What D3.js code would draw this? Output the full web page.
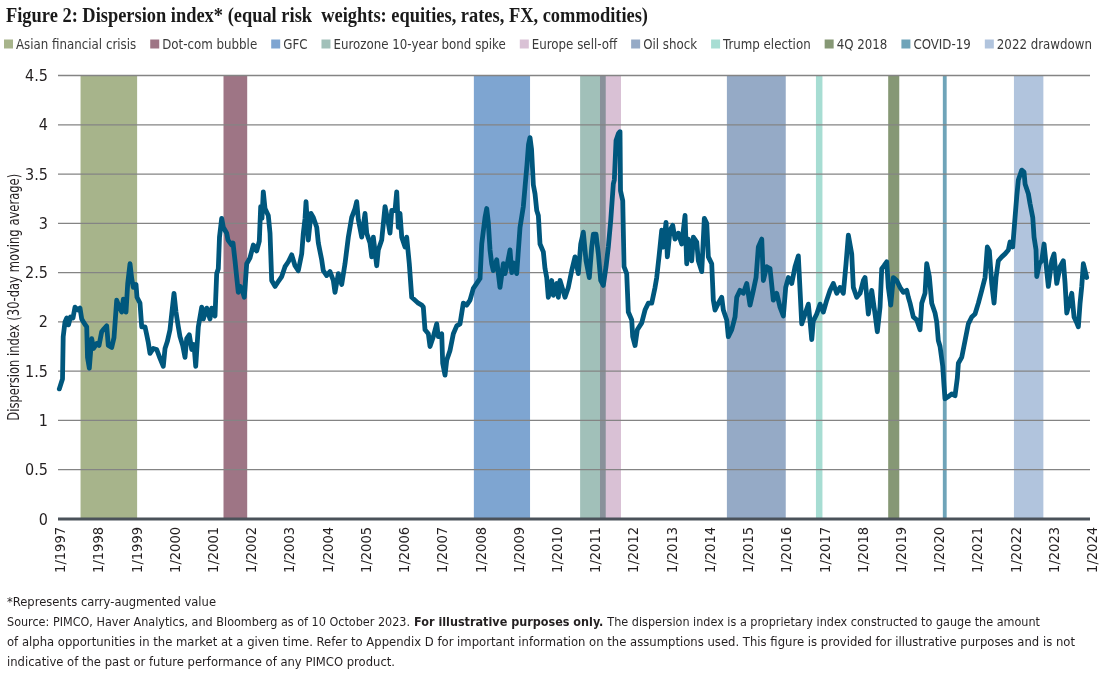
<!DOCTYPE html>
<html>
<head>
<meta charset="utf-8">
<script src="https://cdn.jsdelivr.net/npm/d3@7"></script>
<style>
  body { margin: 0; background: #fff; }
  text { font-family: "Liberation Sans Narrow", "DejaVu Sans Condensed", "Roboto Condensed", "Liberation Sans", sans-serif; fill: #231f20; }
</style>
</head>
<body>
<script>
// dispersion index, 30-day moving average (decimal year, value)
var years = [
  1997.034, 1997.092, 1997.118, 1997.136, 1997.183, 1997.228, 1997.275, 1997.327, 1997.392, 1997.445,
  1997.523, 1997.576, 1997.620, 1997.680, 1997.751, 1997.772, 1997.819, 1997.850, 1997.882, 1997.929,
  1998.013, 1998.073, 1998.143, 1998.204, 1998.274, 1998.316, 1998.405, 1998.465, 1998.536, 1998.583,
  1998.667, 1998.709, 1998.779, 1998.824, 1998.884, 1998.928, 1998.970, 1999.041, 1999.067, 1999.145,
  1999.190, 1999.276, 1999.321, 1999.363, 1999.407, 1999.493, 1999.582, 1999.669, 1999.755, 1999.800,
  1999.860, 1999.930, 1999.975, 2000.035, 2000.087, 2000.148, 2000.192, 2000.263, 2000.323, 2000.367,
  2000.435, 2000.498, 2000.558, 2000.603, 2000.671, 2000.760, 2000.802, 2000.891, 2000.977, 2001.021,
  2001.108, 2001.152, 2001.194, 2001.225, 2001.283, 2001.325, 2001.414, 2001.448, 2001.545, 2001.579,
  2001.631, 2001.676, 2001.717, 2001.762, 2001.806, 2001.874, 2001.937, 2002.023, 2002.110, 2002.199,
  2002.267, 2002.303, 2002.337, 2002.371, 2002.416, 2002.502, 2002.547, 2002.591, 2002.678, 2002.764,
  2002.853, 2002.939, 2003.026, 2003.115, 2003.201, 2003.287, 2003.376, 2003.418, 2003.463, 2003.489,
  2003.549, 2003.619, 2003.680, 2003.769, 2003.811, 2003.899, 2003.941, 2004.030, 2004.117, 2004.203,
  2004.247, 2004.334, 2004.423, 2004.509, 2004.596, 2004.684, 2004.771, 2004.815, 2004.857, 2004.946,
  2005.032, 2005.077, 2005.163, 2005.208, 2005.250, 2005.338, 2005.380, 2005.469, 2005.556, 2005.634,
  2005.686, 2005.731, 2005.817, 2005.862, 2005.904, 2005.948, 2005.993, 2006.079, 2006.123, 2006.191,
  2006.254, 2006.341, 2006.427, 2006.516, 2006.558, 2006.602, 2006.689, 2006.733, 2006.819, 2006.908,
  2006.950, 2007.039, 2007.065, 2007.125, 2007.170, 2007.256, 2007.343, 2007.432, 2007.518, 2007.604,
  2007.693, 2007.780, 2007.866, 2007.955, 2008.041, 2008.086, 2008.172, 2008.217, 2008.258, 2008.303,
  2008.347, 2008.389, 2008.478, 2008.520, 2008.564, 2008.651, 2008.695, 2008.756, 2008.826, 2008.871,
  2008.913, 2009.001, 2009.088, 2009.174, 2009.219, 2009.271, 2009.310, 2009.349, 2009.389, 2009.436,
  2009.480, 2009.525, 2009.567, 2009.611, 2009.698, 2009.742, 2009.786, 2009.828, 2009.917, 2009.959,
  2010.048, 2010.090, 2010.134, 2010.265, 2010.351, 2010.440, 2010.527, 2010.613, 2010.676, 2010.744,
  2010.815, 2010.901, 2010.964, 2011.006, 2011.076, 2011.137, 2011.199, 2011.267, 2011.338, 2011.398,
  2011.461, 2011.529, 2011.555, 2011.600, 2011.660, 2011.704, 2011.717, 2011.775, 2011.809, 2011.879,
  2011.921, 2012.010, 2012.036, 2012.097, 2012.157, 2012.272, 2012.358, 2012.444, 2012.533, 2012.620,
  2012.664, 2012.732, 2012.795, 2012.837, 2012.908, 2012.942, 2013.013, 2013.083, 2013.143, 2013.229,
  2013.318, 2013.405, 2013.449, 2013.491, 2013.580, 2013.622, 2013.711, 2013.753, 2013.842, 2013.910,
  2013.973, 2014.015, 2014.103, 2014.145, 2014.190, 2014.276, 2014.365, 2014.407, 2014.496, 2014.538,
  2014.627, 2014.713, 2014.758, 2014.844, 2014.930, 2015.019, 2015.105, 2015.192, 2015.263, 2015.323,
  2015.412, 2015.454, 2015.542, 2015.629, 2015.715, 2015.804, 2015.890, 2015.977, 2016.039, 2016.108,
  2016.196, 2016.283, 2016.369, 2016.414, 2016.458, 2016.545, 2016.631, 2016.676, 2016.720, 2016.762,
  2016.851, 2016.937, 2017.023, 2017.112, 2017.199, 2017.285, 2017.374, 2017.460, 2017.547, 2017.617,
  2017.678, 2017.766, 2017.808, 2017.897, 2017.984, 2018.070, 2018.114, 2018.201, 2018.289, 2018.376,
  2018.436, 2018.507, 2018.551, 2018.612, 2018.682, 2018.724, 2018.787, 2018.855, 2018.943, 2019.030,
  2019.117, 2019.205, 2019.247, 2019.292, 2019.378, 2019.467, 2019.553, 2019.598, 2019.684, 2019.728,
  2019.796, 2019.859, 2019.946, 2019.990, 2020.032, 2020.077, 2020.147, 2020.181, 2020.207, 2020.286,
  2020.383, 2020.469, 2020.529, 2020.556, 2020.644, 2020.731, 2020.817, 2020.906, 2020.992, 2021.079,
  2021.168, 2021.254, 2021.314, 2021.367, 2021.429, 2021.490, 2021.542, 2021.602, 2021.691, 2021.777,
  2021.864, 2021.908, 2021.978, 2022.039, 2022.083, 2022.125, 2022.214, 2022.274, 2022.301, 2022.387,
  2022.431, 2022.502, 2022.536, 2022.588, 2022.607, 2022.675, 2022.737, 2022.798, 2022.868, 2022.910,
  2022.999, 2023.059, 2023.130, 2023.217, 2023.303, 2023.348, 2023.392, 2023.478, 2023.523, 2023.583,
  2023.653, 2023.695, 2023.740, 2023.784, 2023.826, 2023.870, 2023.914
];
var values = [
  1.32, 1.39, 1.42, 1.85, 2.00, 2.04, 1.97, 2.05, 2.04, 2.15,
  2.12, 2.14, 2.03, 1.99, 1.95, 1.64, 1.53, 1.68, 1.83, 1.73,
  1.78, 1.76, 1.90, 1.93, 1.96, 1.76, 1.74, 1.84, 2.22, 2.17,
  2.10, 2.23, 2.10, 2.39, 2.59, 2.44, 2.35, 2.38, 2.25, 2.19,
  1.95, 1.95, 1.87, 1.79, 1.68, 1.73, 1.72, 1.63, 1.55, 1.73,
  1.80, 1.92, 2.08, 2.29, 2.10, 1.95, 1.85, 1.76, 1.64, 1.83,
  1.87, 1.72, 1.77, 1.55, 1.95, 2.15, 2.03, 2.14, 2.03, 2.14,
  2.06, 2.49, 2.54, 2.86, 3.05, 2.96, 2.90, 2.83, 2.78, 2.80,
  2.62, 2.45, 2.30, 2.36, 2.34, 2.25, 2.59, 2.65, 2.78, 2.72,
  2.82, 3.17, 3.05, 3.32, 3.15, 3.08, 2.90, 2.42, 2.36, 2.41,
  2.46, 2.56, 2.61, 2.68, 2.57, 2.52, 2.69, 2.90, 3.05, 3.22,
  2.83, 3.10, 3.06, 2.96, 2.80, 2.63, 2.52, 2.47, 2.51, 2.42,
  2.30, 2.49, 2.38, 2.59, 2.86, 3.06, 3.15, 3.22, 3.04, 2.86,
  3.10, 2.90, 2.80, 2.66, 2.86, 2.57, 2.73, 2.83, 3.17, 3.02,
  2.90, 3.13, 3.13, 3.32, 2.96, 3.10, 2.86, 2.76, 2.86, 2.59,
  2.25, 2.22, 2.19, 2.17, 2.15, 1.92, 1.88, 1.75, 1.85, 1.98,
  1.85, 1.88, 1.58, 1.46, 1.61, 1.71, 1.88, 1.96, 1.98, 2.19,
  2.17, 2.22, 2.34, 2.39, 2.44, 2.79, 3.06, 3.15, 3.01, 2.73,
  2.59, 2.52, 2.63, 2.49, 2.35, 2.59, 2.49, 2.59, 2.73, 2.50,
  2.60, 2.49, 2.96, 3.17, 3.37, 3.60, 3.80, 3.87, 3.75, 3.39,
  3.30, 3.13, 3.08, 2.79, 2.71, 2.54, 2.45, 2.25, 2.42, 2.27,
  2.39, 2.25, 2.42, 2.25, 2.35, 2.52, 2.66, 2.49, 2.79, 2.91,
  2.62, 2.45, 2.76, 2.89, 2.89, 2.69, 2.42, 2.37, 2.56, 2.76,
  3.03, 3.40, 3.44, 3.84, 3.91, 3.93, 3.33, 3.23, 2.56, 2.49,
  2.10, 2.02, 1.85, 1.76, 1.92, 1.99, 2.12, 2.19, 2.19, 2.35,
  2.45, 2.69, 2.93, 2.76, 3.01, 2.66, 2.93, 2.98, 2.84, 2.90,
  2.79, 3.08, 2.59, 2.84, 2.62, 2.86, 2.81, 2.62, 2.51, 3.05,
  3.00, 2.66, 2.59, 2.22, 2.12, 2.19, 2.25, 2.12, 2.02, 1.85,
  1.92, 2.05, 2.25, 2.32, 2.29, 2.39, 2.17, 2.32, 2.45, 2.76,
  2.84, 2.42, 2.56, 2.54, 2.22, 2.29, 2.15, 2.06, 2.35, 2.45,
  2.39, 2.56, 2.67, 2.32, 1.98, 2.08, 2.18, 2.01, 1.82, 2.01,
  2.08, 2.18, 2.10, 2.22, 2.32, 2.39, 2.29, 2.35, 2.29, 2.59,
  2.88, 2.69, 2.35, 2.25, 2.29, 2.42, 2.45, 2.08, 2.32, 2.08,
  1.90, 2.15, 2.54, 2.57, 2.61, 2.35, 2.17, 2.45, 2.42, 2.35,
  2.30, 2.32, 2.25, 2.19, 2.05, 2.02, 1.92, 2.19, 2.29, 2.59,
  2.46, 2.19, 2.09, 2.00, 1.81, 1.75, 1.55, 1.35, 1.22, 1.24,
  1.27, 1.25, 1.43, 1.58, 1.64, 1.81, 1.98, 2.05, 2.08, 2.19,
  2.32, 2.45, 2.76, 2.72, 2.39, 2.19, 2.45, 2.62, 2.66, 2.69,
  2.73, 2.81, 2.76, 3.06, 3.27, 3.44, 3.54, 3.52, 3.40, 3.30,
  3.20, 3.06, 2.86, 2.73, 2.46, 2.59, 2.62, 2.79, 2.52, 2.36,
  2.62, 2.69, 2.39, 2.56, 2.62, 2.39, 2.09, 2.22, 2.29, 2.05,
  1.99, 1.95, 2.19, 2.36, 2.59, 2.52, 2.45
];

// shaded episodes
var eventNames = ["Asian financial crisis", "Dot-com bubble", "GFC", "Eurozone 10-year bond spike",
  "Europe sell-off", "Oil shock", "Trump election", "4Q 2018", "COVID-19", "2022 drawdown"];
var eventStart = [1997.59, 2001.33, 2007.88, 2010.66, 2011.18, 2014.50, 2016.83, 2018.72, 2020.15, 2022.01];
var eventEnd   = [1999.07, 2001.95, 2009.35, 2011.33, 2011.73, 2016.04, 2017.00, 2019.01, 2020.25, 2022.78];
var eventColors = ["#a7b48b", "#9e7585", "#7ea5d1", "#a1c0b9", "#d9c1d5",
  "#95aac6", "#a7ddd3", "#869875", "#6fa4b9", "#b1c4dd"];

var yTicks = [0, 0.5, 1, 1.5, 2, 2.5, 3, 3.5, 4, 4.5];
var xTickYears = d3.range(1997, 2025);

var titleText = "Figure 2: Dispersion index* (equal risk  weights: equities, rates, FX, commodities)";
var yLabel = "Dispersion index (30-day moving average)";
var sourceParts = [
  "Source: PIMCO, Haver Analytics, and Bloomberg as of 10 October 2023.",
  "For illustrative purposes only.",
  "The dispersion index is a proprietary index constructed to gauge the amount"
];

// shrink the font until the natural width fits, then pin the width
function fitText(sel, target, size) {
  sel.style("font-size", size + "px");
  var w = sel.node().getComputedTextLength();
  if (w > target) sel.style("font-size", (size * target / w - 0.05) + "px");
  sel.attr("textLength", target).attr("lengthAdjust", "spacingAndGlyphs");
}

function main() {
  var width = 1100, height = 680;
  var left = 58, right = 1090, top = 75.5, bottom = 519;

  var svg = d3.select("body").append("svg")
    .attr("width", width)
    .attr("height", height);

  var x = d3.scaleLinear().domain([1997, 2024]).range([left, right]);
  var y = d3.scaleLinear().domain([0, 4.5]).range([bottom, top]);

  // title
  svg.append("text")
    .attr("x", 6).attr("y", 22)
    .style("font-family", '"Liberation Serif", "DejaVu Serif", serif')
    .style("font-size", "20px")
    .style("font-weight", "bold")
    .style("fill", "#1a1a1a")
    .style("white-space", "pre")
    .attr("textLength", 642)
    .attr("lengthAdjust", "spacingAndGlyphs")
    .text(titleText);

  // legend (flowed, then squeezed to fit the row)
  var leg = svg.append("g").attr("class", "legend");
  var items = leg.selectAll("g").data(eventNames).enter().append("g");
  items.append("rect")
    .attr("width", 9).attr("height", 9)
    .attr("fill", (d, i) => eventColors[i]);
  var legTexts = items.append("text")
    .attr("x", 12).attr("y", 9.5)
    .style("font-size", "14px")
    .style("fill", "#3a3a3a")
    .text(d => d);
  var natural = [];
  legTexts.each(function () { natural.push(this.getComputedTextLength()); });
  var gap = 14, sq = 12, legX0 = 4, legX1 = 1092;
  var k = (legX1 - legX0 - eventNames.length * sq - (eventNames.length - 1) * gap) / d3.sum(natural);
  var cx = legX0;
  items.each(function (d, i) {
    var w = natural[i] * k;
    d3.select(this).attr("transform", "translate(" + cx + ",39.5)");
    d3.select(this).select("text").attr("textLength", w).attr("lengthAdjust", "spacingAndGlyphs");
    cx += sq + w + gap;
  });

  // shaded episodes
  svg.append("g").selectAll("rect")
    .data(eventNames)
    .enter()
    .append("rect")
    .attr("x", (d, i) => x(eventStart[i]))
    .attr("width", (d, i) => x(eventEnd[i]) - x(eventStart[i]))
    .attr("y", y(4.5))
    .attr("height", y(0) - y(4.5))
    .attr("fill", (d, i) => eventColors[i])
    .style("mix-blend-mode", "multiply");

  // gridlines
  svg.append("g").selectAll("line")
    .data(yTicks.filter(d => d > 0))
    .enter()
    .append("line")
    .attr("x1", left).attr("x2", right)
    .attr("y1", d => y(d)).attr("y2", d => y(d))
    .attr("stroke", "#848484")
    .attr("stroke-width", 1.3);

  // y tick labels
  svg.append("g").selectAll("text")
    .data(yTicks)
    .enter()
    .append("text")
    .attr("x", 48)
    .attr("y", d => y(d) + 5.5)
    .attr("text-anchor", "end")
    .style("font-size", "16px")
    .text(d => d);

  // y axis title
  svg.append("text")
    .attr("transform", "translate(19," + ((top + bottom) / 2) + ") rotate(-90)")
    .attr("text-anchor", "middle")
    .style("font-size", "15px")
    .attr("textLength", 247)
    .attr("lengthAdjust", "spacingAndGlyphs")
    .text(yLabel);

  // the line
  var pts = years.map((d, i) => [d, values[i]]);
  var line = d3.line().x(d => x(d[0])).y(d => y(d[1]));
  svg.append("path")
    .datum(pts)
    .attr("d", line)
    .attr("fill", "none")
    .attr("stroke", "#00577d")
    .attr("stroke-width", 4.8)
    .attr("stroke-linejoin", "round")
    .attr("stroke-linecap", "round");

  // x axis
  svg.append("line")
    .attr("x1", left).attr("x2", right)
    .attr("y1", y(0)).attr("y2", y(0))
    .attr("stroke", "#4b525a")
    .attr("stroke-width", 3);

  svg.append("g").selectAll("text")
    .data(xTickYears)
    .enter()
    .append("text")
    .attr("transform", d => "translate(" + (x(d) + 2) + ",527) rotate(-90)")
    .attr("text-anchor", "end")
    .attr("dy", "0.35em")
    .style("font-size", "14.5px")
    .text(d => "1/" + d);

  // footnotes
  var foot = svg.append("g").style("fill", "#333");
  fitText(foot.append("text").attr("x", 7).attr("y", 606)
    .text("*Represents carry-augmented value"), 209, 14.5);

  // source line: three pieces, the middle one bold, fitted to one width together
  var parts = foot.selectAll("text.src")
    .data(sourceParts)
    .enter()
    .append("text")
    .attr("class", "src")
    .attr("y", 626)
    .style("font-size", "14.5px")
    .style("font-weight", (d, i) => i === 1 ? "bold" : "normal")
    .text(d => d);
  var pw = [];
  parts.each(function () { pw.push(this.getComputedTextLength()); });
  var space = 4;
  var ks = (1033 - 2 * space) / d3.sum(pw);
  if (ks < 1) parts.style("font-size", (14.5 * ks - 0.05) + "px");
  var px = 7;
  parts.each(function (d, i) {
    d3.select(this).attr("x", px)
      .attr("textLength", pw[i] * ks).attr("lengthAdjust", "spacingAndGlyphs");
    px += pw[i] * ks + space;
  });

  fitText(foot.append("text").attr("x", 7).attr("y", 646)
    .text("of alpha opportunities in the market at a given time. Refer to Appendix D for important information on the assumptions used. This figure is provided for illustrative purposes and is not"), 1068, 14.5);
  fitText(foot.append("text").attr("x", 7).attr("y", 666)
    .text("indicative of the past or future performance of any PIMCO product."), 388, 14.5);
}

main();
</script>
</body>
</html>
